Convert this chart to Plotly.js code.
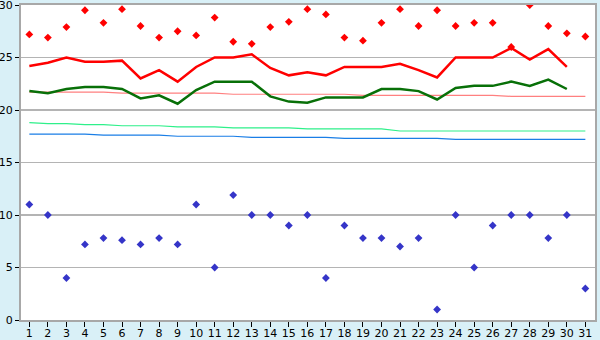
<!DOCTYPE html>
<html>
<head>
<meta charset="utf-8">
<script src="https://cdn.plot.ly/plotly-3.0.1.min.js"></script>
<style>
html,body{margin:0;padding:0;background:#d9f0f7;}
#chart{width:600px;height:340px;}
</style>
</head>
<body>
<div id="chart"></div>
<script>
var days = [1,2,3,4,5,6,7,8,9,10,11,12,13,14,15,16,17,18,19,20,21,22,23,24,25,26,27,28,29,30,31];
var dayLabels = ["1","2","3","4","5","6","7","8","9","10","11","12","13","14","15","16","17","18","19","20","21","22","23","24","25","26","27","28","29","30","31"];

var maxPoints = [27.2,26.9,27.9,29.5,28.3,29.6,28.0,26.9,27.5,27.1,28.8,26.5,26.3,27.9,28.4,29.6,29.1,26.9,26.6,28.3,29.6,28.0,29.5,28.0,28.3,28.3,26.0,30.0,28.0,27.3,27.0];
var minPoints = [11,10,4,7.2,7.8,7.6,7.2,7.8,7.2,11,5,11.9,10,10,9,10,4,9,7.8,7.8,7,7.8,1,10,5,9,10,10,7.8,10,3];

var redLine = [24.2,24.5,25.0,24.6,24.6,24.7,23.0,23.8,22.7,24.1,25.0,25.0,25.3,24.0,23.3,23.6,23.3,24.1,24.1,24.1,24.4,23.8,23.1,25.0,25.0,25.0,25.9,24.8,25.8,24.1];
var greenLine = [21.8,21.6,22.0,22.2,22.2,22.0,21.1,21.4,20.6,21.9,22.7,22.7,22.7,21.3,20.8,20.7,21.2,21.2,21.2,22.0,22.0,21.8,21.0,22.1,22.3,22.3,22.7,22.3,22.9,22.0];

var pinkRef = [21.7,21.7,21.7,21.7,21.7,21.6,21.6,21.6,21.6,21.6,21.6,21.5,21.5,21.5,21.5,21.5,21.5,21.5,21.4,21.4,21.4,21.4,21.4,21.4,21.4,21.4,21.3,21.3,21.3,21.3,21.3];
var lightGreenRef = [18.8,18.7,18.7,18.6,18.6,18.5,18.5,18.5,18.4,18.4,18.4,18.3,18.3,18.3,18.3,18.2,18.2,18.2,18.2,18.2,18.0,18.0,18.0,18.0,18.0,18.0,18.0,18.0,18.0,18.0,18.0];
var blueRef = [17.7,17.7,17.7,17.7,17.6,17.6,17.6,17.6,17.5,17.5,17.5,17.5,17.4,17.4,17.4,17.4,17.4,17.3,17.3,17.3,17.3,17.3,17.3,17.2,17.2,17.2,17.2,17.2,17.2,17.2,17.2];

var traces = [
  {x: days, y: pinkRef, mode: 'lines', line: {color: '#ff8080', width: 1.2}},
  {x: days, y: lightGreenRef, mode: 'lines', line: {color: '#2ef08a', width: 1.2}},
  {x: days, y: blueRef, mode: 'lines', line: {color: '#1a7ee6', width: 1.2}},
  {x: days.slice(0, greenLine.length), y: greenLine, mode: 'lines', line: {color: '#087008', width: 2.5}},
  {x: days.slice(0, redLine.length), y: redLine, mode: 'lines', line: {color: '#ff0000', width: 2.5}},
  {x: days, y: maxPoints, mode: 'markers', marker: {symbol: 'diamond', size: 6, color: '#ff0000'}},
  {x: days, y: minPoints, mode: 'markers', marker: {symbol: 'diamond', size: 6, color: '#3535c8'}}
];

var layout = {
  width: 600, height: 340,
  margin: {l: 21, r: 5, t: 5, b: 20, pad: 0},
  paper_bgcolor: '#d9f0f7',
  plot_bgcolor: '#ffffff',
  showlegend: false,
  font: {family: 'DejaVu Sans, Verdana, sans-serif', size: 11, color: '#000'},
  xaxis: {
    range: [0.55, 31.52],
    tickmode: 'array', tickvals: days, ticktext: dayLabels,
    ticks: 'outside', ticklen: 5, tickcolor: '#000', tickwidth: 1,
    ticklabelstandoff: -3,
    ticklabeloverflow: 'allow',
    showgrid: false, zeroline: false,
    showline: true, linecolor: '#a8a8a8', linewidth: 2, mirror: true,
    tickfont: {family: 'DejaVu Sans, Verdana, sans-serif', size: 11, color: '#000'}
  },
  yaxis: {
    range: [0, 30],
    tickmode: 'array', tickvals: [0,5,10,15,20,25,30], ticktext: ['0','5','10','15','20','25','30'],
    ticks: 'outside', ticklen: 4, tickcolor: '#000', tickwidth: 1,
    ticklabeloverflow: 'allow',
    showgrid: true, gridcolor: '#b4b4b4', gridwidth: 1.2,
    zeroline: false,
    showline: true, linecolor: '#a8a8a8', linewidth: 2, mirror: true,
    tickfont: {family: 'DejaVu Sans, Verdana, sans-serif', size: 11, color: '#000'}
  }
};

Plotly.newPlot('chart', traces, layout, {staticPlot: true, displayModeBar: false});
</script>
</body>
</html>
